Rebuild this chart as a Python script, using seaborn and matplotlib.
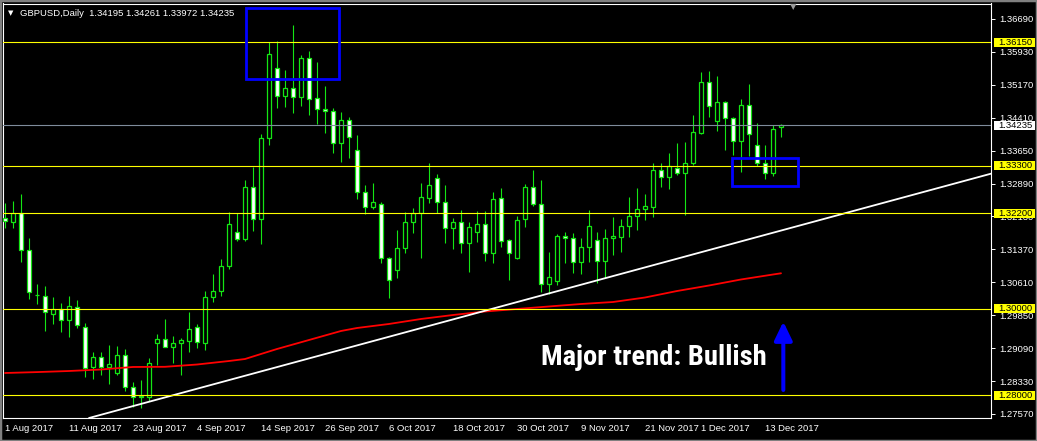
import numpy as np
import pandas as pd
import matplotlib
matplotlib.use("Agg")
import matplotlib.pyplot as plt
import matplotlib.transforms as mtransforms
from matplotlib.patches import Rectangle
from matplotlib import font_manager
import seaborn as sns

# ---------------- data ----------------
symbol_title = "GBPUSD,Daily"
start_date = "2017-08-01"
end_date = "2017-12-15"
missing_dates = ["2017-11-23"]

open_ = [1.32087, 1.32008, 1.32202, 1.31348, 1.30309, 1.30300, 1.29870, 1.29986, 1.29732, 1.30032,
         1.29570, 1.28661, 1.28892, 1.28647, 1.28508, 1.28924, 1.28199, 1.27961, 1.27968, 1.29201,
         1.29293, 1.29122, 1.29201, 1.29261, 1.29570, 1.29201, 1.30263, 1.30402, 1.30979, 1.31764,
         1.31602, 1.32803, 1.32064, 1.33934, 1.35550, 1.34917, 1.35088, 1.34894, 1.35781, 1.34857,
         1.34610, 1.34557, 1.33819, 1.34350, 1.33657, 1.32687, 1.32341, 1.32410, 1.31163, 1.30893,
         1.31394, 1.31995, 1.32202, 1.32549, 1.33010, 1.32470, 1.31856, 1.32008, 1.31524, 1.31778,
         1.31948, 1.31279, 1.32549, 1.31586, 1.31163, 1.32064, 1.32803, 1.32410, 1.30563, 1.30646,
         1.31678, 1.31625, 1.31085, 1.31417, 1.31586, 1.31108, 1.31625, 1.31662, 1.31902, 1.32140,
         1.32295, 1.32355, 1.33195, 1.33034, 1.33241, 1.33126, 1.33357, 1.34049, 1.35227, 1.34340,
         1.34765, 1.34396, 1.33879, 1.34696, 1.33772, 1.33357, 1.33140, 1.34195]
high = [1.32433, 1.32486, 1.32648, 1.31625, 1.30570, 1.30524, 1.30270, 1.30131, 1.30293, 1.30201,
        1.29663, 1.28993, 1.28993, 1.29169, 1.29139, 1.29062, 1.28307, 1.28354, 1.28855, 1.29416,
        1.29755, 1.29369, 1.29323, 1.29924, 1.29647, 1.30408, 1.30801, 1.31147, 1.32232, 1.32202,
        1.32971, 1.33278, 1.34033, 1.36150, 1.36180, 1.35511, 1.36550, 1.35857, 1.35950, 1.35696,
        1.35141, 1.34640, 1.34541, 1.34433, 1.34010, 1.32856, 1.32902, 1.32470, 1.31187, 1.31817,
        1.32239, 1.32318, 1.32909, 1.33357, 1.33110, 1.32856, 1.32087, 1.32279, 1.32002, 1.32255,
        1.32255, 1.32687, 1.32793, 1.31602, 1.32140, 1.32879, 1.33202, 1.32971, 1.31316, 1.31724,
        1.31778, 1.31741, 1.31625, 1.32279, 1.31764, 1.31840, 1.32110, 1.32071, 1.32579, 1.32793,
        1.32648, 1.33357, 1.33357, 1.33595, 1.33832, 1.33855, 1.34472, 1.35458, 1.35488, 1.35372,
        1.34795, 1.34433, 1.34841, 1.35188, 1.34294, 1.33779, 1.34241, 1.34261]
low = [1.31856, 1.31870, 1.31085, 1.30217, 1.30108, 1.29492, 1.29647, 1.29469, 1.29353, 1.29547,
       1.28430, 1.28377, 1.28469, 1.28261, 1.28469, 1.28093, 1.27737, 1.27700, 1.27876, 1.28700,
       1.29104, 1.28753, 1.28469, 1.29000, 1.29092, 1.29046, 1.30154, 1.30300, 1.30909, 1.31570,
       1.31570, 1.31801, 1.31487, 1.33779, 1.34627, 1.34664, 1.34511, 1.34680, 1.34472, 1.34264,
       1.34063, 1.33602, 1.33394, 1.33472, 1.32539, 1.32193, 1.32302, 1.31048, 1.30240, 1.30716,
       1.31279, 1.31741, 1.31177, 1.32447, 1.32216, 1.31524, 1.31371, 1.31293, 1.30854, 1.31547,
       1.31108, 1.31062, 1.31431, 1.30662, 1.31140, 1.31893, 1.32371, 1.30392, 1.30339, 1.30547,
       1.31062, 1.30831, 1.30801, 1.31085, 1.30586, 1.30702, 1.31240, 1.31316, 1.31662, 1.31817,
       1.32048, 1.32110, 1.32817, 1.32756, 1.33075, 1.32163, 1.33317, 1.34033, 1.34419, 1.34109,
       1.33664, 1.33548, 1.33163, 1.33525, 1.33294, 1.32994, 1.33064, 1.33972]
close = [1.32032, 1.32202, 1.31348, 1.30378, 1.30316, 1.29917, 1.29986, 1.29732, 1.30055, 1.29617,
         1.28624, 1.28878, 1.28647, 1.28716, 1.28924, 1.28185, 1.27954, 1.27973, 1.28739, 1.29293,
         1.29122, 1.29201, 1.29270, 1.29524, 1.29238, 1.30263, 1.30402, 1.30979, 1.31955, 1.31602,
         1.32803, 1.32064, 1.33934, 1.35873, 1.34917, 1.35088, 1.34894, 1.35781, 1.34834, 1.34604,
         1.34557, 1.33819, 1.34350, 1.33957, 1.32687, 1.32341, 1.32456, 1.31163, 1.30662, 1.31394,
         1.31995, 1.32202, 1.32572, 1.32856, 1.32470, 1.31856, 1.32008, 1.31524, 1.31879, 1.31948,
         1.31279, 1.32526, 1.31563, 1.31279, 1.32048, 1.32803, 1.32410, 1.30563, 1.30725, 1.31678,
         1.31621, 1.31085, 1.31417, 1.31902, 1.31108, 1.31625, 1.31678, 1.31902, 1.32140, 1.32295,
         1.32364, 1.33202, 1.33034, 1.33294, 1.33140, 1.33357, 1.34072, 1.35227, 1.34687, 1.34765,
         1.34396, 1.33879, 1.34696, 1.34026, 1.33357, 1.33140, 1.34142, 1.34235]

# 200-day moving average (red), read at every few bars
ma_bar = [0, 4, 8, 12, 16, 20, 24, 28, 30, 32, 34, 36, 38, 40, 42, 44, 48, 52, 56, 60,
          64, 68, 72, 76, 80, 84, 88, 92, 96, 97]
ma_value = [1.28515, 1.28536, 1.28561, 1.28596, 1.28654, 1.28658, 1.28711, 1.28792, 1.28838, 1.28954,
            1.29069, 1.29173, 1.29277, 1.29381, 1.29485, 1.29554, 1.29647, 1.29762, 1.29854, 1.29935,
            1.29993, 1.30051, 1.30108, 1.30154, 1.30258, 1.30408, 1.30535, 1.30674, 1.30789, 1.30817]

# white trend line anchors (bar, price)
trend_bar = [16, 80]
trend_price = [1.27751, 1.30953]

levels = [1.36150, 1.33300, 1.32200, 1.30000, 1.28000]
bid_price = 1.34235
ytick_values = [1.27570, 1.28330, 1.29090, 1.29850, 1.30610, 1.31370, 1.32130,
                1.32890, 1.33650, 1.34410, 1.35170, 1.35930, 1.36690]
xtick_labels = ["1 Aug 2017", "11 Aug 2017", "23 Aug 2017", "4 Sep 2017", "14 Sep 2017",
                "26 Sep 2017", "6 Oct 2017", "18 Oct 2017", "30 Oct 2017", "9 Nov 2017",
                "21 Nov 2017", "1 Dec 2017", "13 Dec 2017"]

box_bars = [(30.16, 41.79), (90.84, 99.16)]
box_prices = [(1.35303, 1.36949), (1.32833, 1.33486)]

note_text = "Major trend: Bullish"
note_bar, note_price = 66.96, 1.28700
arrow_bar, arrow_from, arrow_to = 97.29, 1.28123, 1.29700

# ---------------- style ----------------
sns.set_theme(style="dark", rc={"axes.facecolor": "black", "figure.facecolor": "black",
                                "axes.edgecolor": "white", "text.color": "white",
                                "xtick.color": "white", "ytick.color": "white"})
plt.rcParams["font.family"] = ["Liberation Sans", "DejaVu Sans"]

available = {f.name for f in font_manager.fontManager.ttflist}
narrow_font = None
for cand in ["Liberation Sans Narrow", "Arial Narrow", "Roboto Condensed", "Open Sans Condensed"]:
    if cand in available:
        narrow_font = cand
        break

GREEN = "#14e614"
W, H = 1037, 441
fig = plt.figure(figsize=(W / 100, H / 100), dpi=100, facecolor="black")
ax_l, ax_r, ax_t, ax_b = 3, 991, 3.5, 418
ax = fig.add_axes([ax_l / W, 1 - ax_b / H, (ax_r - ax_l) / W, (ax_b - ax_t) / H])
ax.set_facecolor("black")

dates = [d for d in pd.bdate_range(start_date, end_date) if d not in pd.to_datetime(missing_dates)]
idx = np.arange(len(dates))
o = np.array(open_); h = np.array(high); l = np.array(low); c = np.array(close)

ymin, ymax = 1.27476, 1.37046
ax.set_xlim(-0.25, 123.25)
ax.set_ylim(ymin, ymax)
py = (ymax - ymin) / (ax_b - ax_t)      # price per pixel

# candles
ax.vlines(idx, l, h, colors=GREEN, linewidth=0.8, zorder=2)
bull = c >= o
fills = np.where(bull, "black", "white")
body = np.maximum(np.abs(c - o), py * 0.3)
ax.bar(idx, body, bottom=np.minimum(o, c), width=0.56, color=fills,
       edgecolor=GREEN, linewidth=0.9, zorder=3)

# moving average and trend line
sns.lineplot(x=ma_bar, y=ma_value, ax=ax, color="#ff0000", linewidth=1.3, legend=False, zorder=4)
ax.axline((trend_bar[0], trend_price[0]), (trend_bar[1], trend_price[1]),
          color="white", linewidth=1.3, zorder=4)

# horizontal levels
for lv in levels:
    ax.axhline(lv, color="#ffff00", linewidth=0.8, zorder=4)
ax.axhline(bid_price, color="#7f8c9c", linewidth=0.8, zorder=4)

# rectangles
for (b0, b1), (p0, p1) in zip(box_bars, box_prices):
    ax.add_patch(Rectangle((b0, p0), b1 - b0, p1 - p0, fill=False,
                           edgecolor="#0000ff", linewidth=2.0, zorder=5))

# text + arrow
ax.text(note_bar, note_price, note_text, color="white", fontsize=20.5 if narrow_font else 17,
        fontweight="bold", family=[narrow_font] if narrow_font else ["Liberation Sans", "DejaVu Sans"],
        ha="left", va="baseline", zorder=6)
ax.annotate("", xy=(arrow_bar, arrow_to), xytext=(arrow_bar, arrow_from),
            arrowprops=dict(arrowstyle="-|>,head_length=0.56,head_width=0.27",
                            mutation_scale=20, color="#0000ff", lw=2.9,
                            shrinkA=0, shrinkB=0), zorder=6)

# axes frame & ticks
for s in ax.spines.values():
    s.set_color("white")
    s.set_linewidth(0.8)
ax.grid(False)
ax.yaxis.tick_right()
ax.set_yticks(ytick_values)
ax.set_yticklabels([f"{v:.5f}" for v in ytick_values])
ax.tick_params(axis="y", colors="white", labelsize=6.8, length=3, width=0.7,
               direction="out", pad=3, left=False, right=True)
tick_pos = [dates.index(pd.to_datetime(lbl, format="%d %b %Y")) for lbl in xtick_labels]
ax.set_xticks(tick_pos)
ax.set_xticklabels(xtick_labels, ha="left")
ax.tick_params(axis="x", colors="white", labelsize=6.8, length=3, width=0.7,
               direction="out", pad=1.5)
ax.set_xlabel(""); ax.set_ylabel("")

# price labels on the right axis
blend = mtransforms.blended_transform_factory(ax.transAxes, ax.transData)
axw = ax_r - ax_l
def price_tag(price, face):
    ax.add_patch(Rectangle((1 + 3 / axw, price - 4.6 * py), 41 / axw, 9.2 * py,
                           transform=blend, facecolor=face, edgecolor="none",
                           clip_on=False, zorder=8))
    ax.text(1 + 7 / axw, price, f"{price:.5f}", transform=blend, color="black",
            fontsize=6.8, ha="left", va="center", clip_on=False, zorder=9)
for lv in levels:
    price_tag(lv, "#ffff00")
price_tag(bid_price, "white")

# header
fig.text(8 / W, 1 - 13 / H, "\u25bc", family="DejaVu Sans", fontsize=5, color="white",
         ha="left", va="center")
fig.text(20 / W, 1 - 13 / H,
         f"{symbol_title}  {o[-1]:.5f} {h[-1]:.5f} {l[-1]:.5f} {c[-1]:.5f}",
         fontsize=6.8, color="white", ha="left", va="center")
fig.text(793 / W, 1 - 7 / H, "\u25bc", family="DejaVu Sans", fontsize=6, color="#9a9a9a",
         ha="center", va="center")

# window border
fig.patches.append(Rectangle((0, 0), 1, 1, transform=fig.transFigure, fill=False,
                             edgecolor="#808080", linewidth=2.5))

fig.savefig("out.png", dpi=100, facecolor="black")
